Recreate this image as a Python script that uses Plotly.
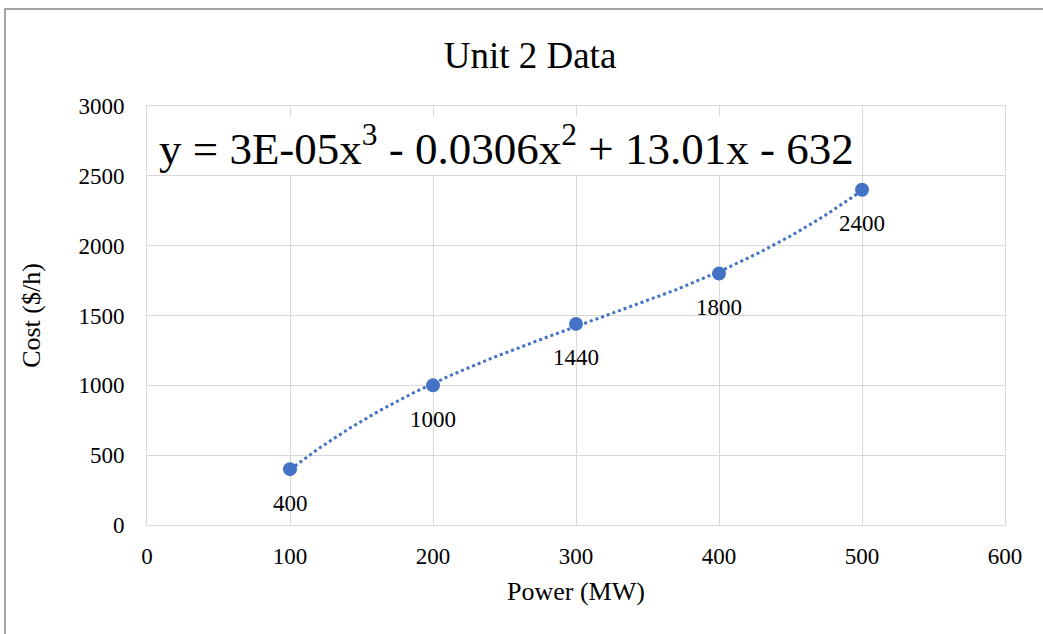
import numpy as np
import plotly.graph_objects as go

power = [100, 200, 300, 400, 500]
cost = [400, 1000, 1440, 1800, 2400]
labels = ["400", "1000", "1440", "1800", "2400"]
title_text = "Unit 2 Data"
equation = "y = 3E-05x<sup>3</sup> - 0.0306x<sup>2</sup> + 13.01x - 632"

coef = np.polyfit(power, cost, 3)
xs = np.linspace(min(power), max(power), 200)
ys = np.polyval(coef, xs)

blue = "#4472C4"
serif = "Liberation Serif, Times New Roman, serif"

fig = go.Figure()
fig.add_trace(go.Scatter(x=xs, y=ys, mode="lines",
                         line=dict(color=blue, width=3, dash="dot"),
                         hoverinfo="skip", showlegend=False))
fig.add_trace(go.Scatter(x=power, y=cost, mode="markers",
                         marker=dict(color=blue, size=14),
                         showlegend=False))
for xv, yv, lab in zip(power, cost, labels):
    fig.add_annotation(x=xv, y=yv, text=lab, showarrow=False, xanchor="center",
                       yanchor="middle", yshift=-34,
                       font=dict(family=serif, size=23, color="#000"))

W, H = 1043, 634
L, R, T, B = 147, 38, 106, 109
pw, ph = W - L - R, H - T - B

def px(x):
    return (x - L) / pw

def py(y):
    return (H - B - y) / ph

fig.add_shape(type="rect", xref="paper", yref="paper",
              x0=px(5), x1=px(1200), y0=py(700), y1=py(9),
              line=dict(color="#858585", width=1.5), fillcolor="rgba(0,0,0,0)", layer="below")

fig.add_annotation(xref="paper", yref="paper", x=px(158), y=py(145),
                   xanchor="left", yanchor="middle", text=equation, showarrow=False,
                   font=dict(family="Liberation Serif, serif", size=45, color="#000"),
                   bgcolor="white", borderpad=0)

fig.update_layout(
    width=W, height=H,
    margin=dict(l=L, r=R, t=T, b=B),
    paper_bgcolor="white", plot_bgcolor="white",
    title=dict(text=title_text, x=530 / W, xanchor="center", y=1 - 55 / H, yanchor="middle",
               font=dict(family=serif, size=37, color="#000")),
    xaxis=dict(range=[0, 600], dtick=100, tick0=0, showgrid=True, gridcolor="#D9D9D9",
               showline=True, linecolor="#D9D9D9", mirror=True, zeroline=False,
               ticks="", tickfont=dict(family=serif, size=23, color="#000"), ticklabelstandoff=10,
               title=dict(text="Power (MW)", font=dict(family=serif, size=26, color="#000"), standoff=14)),
    yaxis=dict(range=[0, 3000], dtick=500, tick0=0, showgrid=True, gridcolor="#D9D9D9",
               showline=True, linecolor="#D9D9D9", mirror=True, zeroline=False,
               ticks="", tickfont=dict(family=serif, size=23, color="#000"), ticklabelstandoff=17,
               title=dict(text="Cost ($/h)", font=dict(family=serif, size=26, color="#000"), standoff=30)),
)

fig.write_html("out.html")
